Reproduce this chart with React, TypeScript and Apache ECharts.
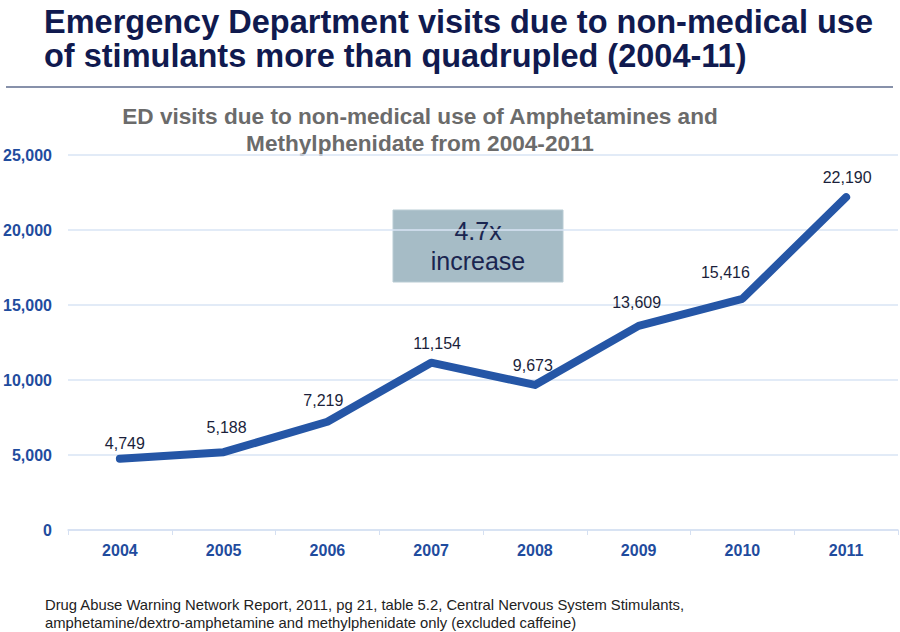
import React, { useEffect, useRef } from "react";
import * as echarts from "echarts";

const years = ["2004", "2005", "2006", "2007", "2008", "2009", "2010", "2011"];
const visits = [4749, 5188, 7219, 11154, 9673, 13609, 15416, 22190];
const yTicks = { min: 0, max: 25000, interval: 5000 };
const titleLines = [
  "Emergency Department visits due to non-medical use",
  "of stimulants more than quadrupled (2004-11)",
];
const subtitleLines = [
  "ED visits due to non-medical use of Amphetamines and",
  "Methylphenidate from 2004-2011",
];
const calloutLines = ["4.7x", "increase"];
const footLines = [
  "Drug Abuse Warning Network Report, 2011, pg 21, table 5.2, Central Nervous System Stimulants,",
  "amphetamine/dextro-amphetamine and methylphenidate only (excluded caffeine)",
];
// label placement tweaks (layout only, not data)
const labelNudge: [number, number][] = [
  [5, -7], [3, -16], [-4, -13], [6, -11], [-2, -11], [-2, -15], [-17, -18], [1, -11],
];

const FONT = "'Liberation Sans', Arial, sans-serif";
const AXIS_BLUE = "#1F4C9E";

export default function App() {
  const ref = useRef<HTMLDivElement>(null);
  useEffect(() => {
    if (!ref.current) return;
    const chart = echarts.init(ref.current, undefined, { renderer: "svg" });
    chart.setOption({
      animation: false,
      backgroundColor: "#ffffff",
      textStyle: { fontFamily: FONT },
      grid: { left: 68, right: 2, top: 155, bottom: 102, containLabel: false },
      xAxis: {
        type: "category",
        data: years,
        boundaryGap: true,
        axisLine: { show: true, lineStyle: { color: "#D5E0F2", width: 1.5 } },
        axisTick: { show: true, length: 5, lineStyle: { color: "#D5E0F2" } },
        axisLabel: {
          color: AXIS_BLUE,
          fontWeight: "bold",
          fontSize: 16,
          fontFamily: FONT,
          margin: 12,
        },
      },
      yAxis: {
        type: "value",
        min: yTicks.min,
        max: yTicks.max,
        interval: yTicks.interval,
        axisLine: { show: false },
        axisTick: { show: false },
        splitLine: { lineStyle: { color: "#D9E4F5", width: 1.5 } },
        axisLabel: {
          color: AXIS_BLUE,
          fontWeight: "bold",
          fontSize: 16,
          fontFamily: FONT,
          margin: 16,
          formatter: (v: number) => v.toLocaleString("en-US"),
        },
      },
      series: [
        {
          type: "line",
          data: visits.map((v, i) => ({
            value: v,
            label: { offset: labelNudge[i] },
          })),
          symbol: "circle",
          symbolSize: 1,
          showSymbol: true,
          itemStyle: { color: "#2556A6", opacity: 0 },
          lineStyle: { color: "#2556A6", width: 8, cap: "round", join: "round" },
          label: {
            show: true,
            position: "top",
            distance: 0,
            color: "#1B1F3B",
            fontSize: 16,
            fontFamily: FONT,
            opacity: 1,
            formatter: (p: any) => Number(p.value).toLocaleString("en-US"),
          },
        },
      ],
      graphic: [
        {
          type: "text",
          left: 44,
          top: 5,
          style: {
            text: titleLines.join("\n"),
            font: `bold 32.5px ${FONT}`,
            fill: "#101A4F",
            lineHeight: 34,
          },
        },
        {
          type: "line",
          shape: { x1: 6, y1: 87, x2: 893, y2: 87 },
          style: { stroke: "#5F6C8E", lineWidth: 1.5 },
        },
        {
          type: "text",
          x: 420,
          y: 103,
          style: {
            text: subtitleLines.join("\n"),
            font: `bold 22.6px ${FONT}`,
            fill: "#6B6B6B",
            align: "center",
            lineHeight: 27,
          },
        },
        {
          type: "rect",
          shape: { x: 393, y: 210, width: 170, height: 72 },
          style: { fill: "#A6BCC6", stroke: "#B9CCD4", lineWidth: 1 },
        },
        {
          type: "text",
          x: 478,
          y: 216,
          style: {
            text: calloutLines.join("\n"),
            font: `25px ${FONT}`,
            fill: "#1A2550",
            align: "center",
            lineHeight: 30,
          },
        },
        {
          type: "text",
          left: 45,
          top: 596,
          style: {
            text: footLines.join("\n"),
            font: `14.8px ${FONT}`,
            fill: "#222222",
            lineHeight: 18,
          },
        },
      ],
    });
    return () => chart.dispose();
  }, []);
  return (
    <div
      ref={ref}
      style={{ position: "fixed", left: 0, top: 0, width: 900, height: 632 }}
    />
  );
}
